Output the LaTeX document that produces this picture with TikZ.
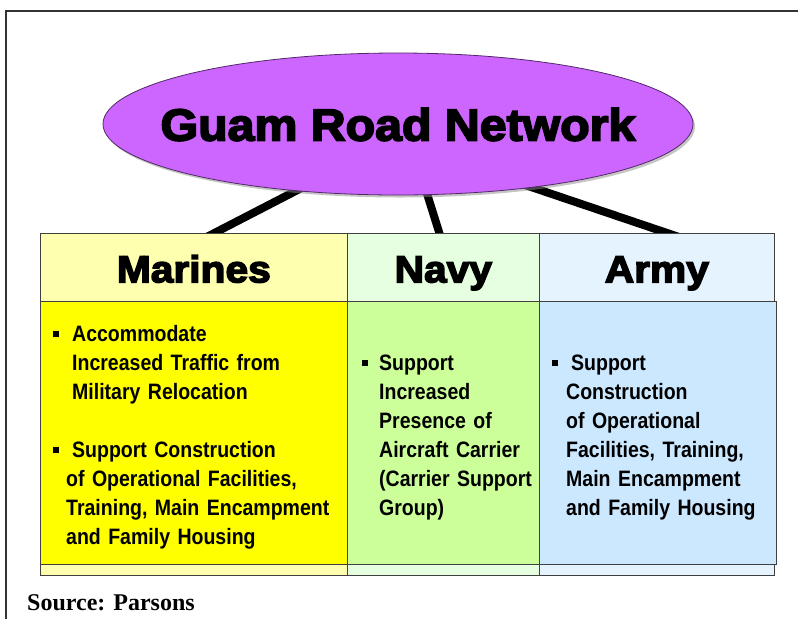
\documentclass[tikz,border=0pt]{standalone}
\usepackage{fontspec}
\usetikzlibrary{shapes.geometric,shadows,calc,backgrounds}
\newfontfamily\blackfont[BoldFeatures={FakeBold=4},FakeStretch=1.08]{Liberation Sans}
\newfontfamily\bodyfont[FakeStretch=0.875]{Liberation Sans}
\newfontfamily\srcfont{Liberation Serif}
\definecolor{ellfill}{HTML}{CC66FF}
\definecolor{marH}{HTML}{FFFFB0}
\definecolor{marB}{HTML}{FFFF00}
\definecolor{navH}{HTML}{E5FFE0}
\definecolor{navB}{HTML}{CCFF99}
\definecolor{armH}{HTML}{E5F3FF}
\definecolor{armB}{HTML}{CCE8FF}
\newcommand{\bul}{\raisebox{4pt}{\rule{6pt}{6pt}}}
\tikzset{
  cell/.style={draw=black!75, line width=0.7pt, inner sep=0pt, anchor=north west},
  headcell/.style={cell, minimum height=68pt, text height=30pt, text depth=0pt,
    font={\blackfont\bfseries\fontsize{37.7pt}{40pt}\selectfont}},
  bodycell/.style={cell, minimum height=263pt},
  stripcell/.style={cell, minimum height=11pt},
  bodytext/.style={anchor=base west, inner sep=0pt, text width=300pt, align=left,
    font={\bodyfont\bfseries\fontsize{22.3pt}{29pt}\selectfont}},
  road/.style={line width=8pt, black},
}
\begin{document}
\begin{tikzpicture}[x=1pt,y=-1pt]
\useasboundingbox (0,0) rectangle (798,619);
\draw[line width=1.5pt, black!80] (6,619) -- (6,11) -- (798,11);

% title ellipse
\node[ellipse, draw=black!60!ellfill, line width=0.8pt, fill=ellfill, inner sep=0pt,
  minimum width=590pt, minimum height=142pt,
  drop shadow={shadow xshift=2pt, shadow yshift=-2.5pt, fill=black!45}] (title) at (398,124) {};
\node[inner sep=0pt, text height=33pt, text depth=0pt,
  font={\blackfont\bfseries\fontsize{44.7pt}{48pt}\selectfont}] (titletext) at (title.center) {Guam Road Network};

% header cells
\node[headcell, fill=marH, minimum width=307pt] (mh) at (40,233) {Marines};
\node[headcell, fill=navH, minimum width=192pt] (nh) at (347,233) {Navy};
\node[headcell, fill=armH, minimum width=235pt] (ah) at (539,233) {Army};

% body cells
\node[bodycell, fill=marB, minimum width=307pt] (mb) at (40,301) {};
\node[bodycell, fill=navB, minimum width=192pt] (nb) at (347,301) {};
\node[bodycell, fill=armB, minimum width=237pt] (ab) at (539,301) {};

% bottom strips
\node[stripcell, fill=marH, minimum width=307pt] (ms) at (40,564) {};
\node[stripcell, fill=navH, minimum width=192pt] (ns) at (347,564) {};
\node[stripcell, fill=armH, minimum width=235pt] (as) at (539,564) {};

% connectors behind
\begin{scope}[on background layer]
\draw[road] ($(title.center)+(-52,41)$) -- ($(mh.north)+(7,7)$);
\draw[road] ($(title.center)+(20,41)$) -- ($(nh.north)+(-1.8,7)$);
\draw[road] ($(title.center)+(68,41)$) -- ($(ah.north)+(31,7)$);
\end{scope}

% body texts
\node[bodytext] (mt1) at (53,341) {\bul\hspace{13pt}Accommodate\\
\hspace*{19pt}Increased Traffic from\\
\hspace*{19pt}Military Relocation};
\node[bodytext] (mt2) at (53,457) {\bul\hspace{13pt}Support Construction\\
\hspace*{13pt}of Operational Facilities,\\
\hspace*{13pt}Training, Main Encampment\\
\hspace*{13pt}and Family Housing};
\node[bodytext] (nt) at (362,370) {\bul\hspace{11pt}Support\\
\hspace*{17pt}Increased\\
\hspace*{17pt}Presence of\\
\hspace*{17pt}Aircraft Carrier\\
\hspace*{17pt}(Carrier Support\\
\hspace*{17pt}Group)};
\node[bodytext] (at) at (552,370) {\bul\hspace{13pt}Support\\
\hspace*{14pt}Construction\\
\hspace*{14pt}of Operational\\
\hspace*{14pt}Facilities, Training,\\
\hspace*{14pt}Main Encampment\\
\hspace*{14pt}and Family Housing};

\node[anchor=base west, inner sep=0pt, font={\srcfont\bfseries\fontsize{24pt}{28pt}\selectfont}] (src) at (27,610) {Source: Parsons};
\end{tikzpicture}
\end{document}
